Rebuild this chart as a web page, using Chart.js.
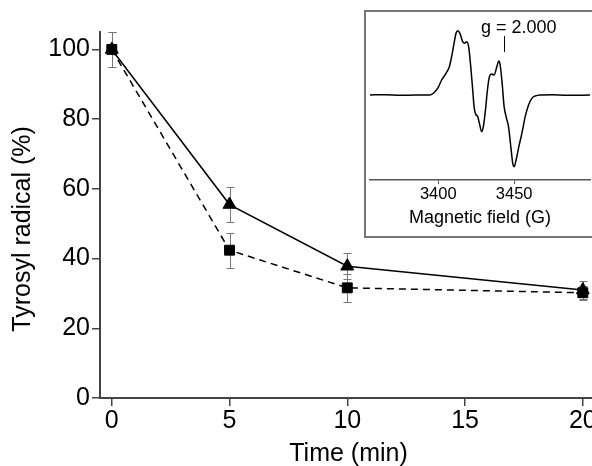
<!DOCTYPE html>
<html>
<head>
<meta charset="utf-8">
<script src="https://cdn.jsdelivr.net/npm/chart.js@4/dist/chart.umd.min.js"></script>
<style>
  html, body { margin: 0; padding: 0; background: #fff; overflow: hidden; width: 592px; height: 466px; }
  #main { position: absolute; left: 0; top: 0; }
  #box { position: absolute; left: 364px; top: 10px; width: 250px; height: 228px; border: 2px solid #777; box-sizing: border-box; background: #fff; }
  #inset { position: absolute; left: 364px; top: 10px; }
</style>
</head>
<body>
<canvas id="main" width="620" height="466"></canvas>
<div id="box"></div>
<canvas id="inset" width="240" height="227"></canvas>
<script>
// main plot data
const times = [0, 5, 10, 20];
const triangleValues = [100, 55.5, 37.8, 31];
const triangleErrors = [5, 5, 3.7, 2.6];
const squareValues = [100, 42.4, 31.6, 30.2];
const squareErrors = [5, 5, 4, 2];
const timeTicks = [0, 5, 10, 15, 20];
const percentTicks = [0, 20, 40, 60, 80, 100];

// inset EPR spectrum (arbitrary units, baseline 0)
const fieldValues = [3355, 3365, 3375, 3385, 3394.5, 3395.6, 3397.8, 3400, 3402.2, 3405.1, 3407.3, 3408.8,
  3410.4, 3411.7, 3412.8, 3414.3, 3416.1, 3417.4, 3418.7, 3420.0, 3421.4, 3422.7, 3423.6, 3424.9,
  3425.8, 3427.1, 3428.6, 3429.7, 3431.1, 3432.4, 3433.7, 3435.2, 3436.8, 3438.6, 3439.9, 3440.8,
  3442.1, 3443.4, 3444.7, 3446.3, 3447.8, 3449.1, 3450.0, 3451.3, 3453.1, 3455.1, 3457.3, 3459.5,
  3461.7, 3463.9, 3467.2, 3475, 3485, 3500];
const signalValues = [0, 1, -1, 0, 0, 2, 10, 23, 45, 65, 85, 115,
  155, 185, 193, 185, 160, 155, 160, 145, 85, 15, -35, -60,
  -63, -85, -110, -95, -45, 15, 55, 63, 60, 85, 102, 90,
  35, -35, -65, -95, -155, -205, -215, -195, -155, -115, -65, -30,
  -10, -3, 0, 1, -1, 0];
const fieldTicks = [3400, 3450];
const gMarkerField = 3443.6;
const gLabel = 'g = 2.000';

const FONT = '"Liberation Sans", Arial, sans-serif';

const errorBars = {
  id: 'errorBars',
  beforeDatasetsDraw(chart) {
    const ctx = chart.ctx;
    const xs = chart.scales.x;
    const ys = chart.scales.y;
    ctx.save();
    ctx.strokeStyle = '#777';
    ctx.lineWidth = 1;
    chart.data.datasets.forEach((ds) => {
      ds.errors.forEach((e, i) => {
        const px = Math.round(xs.getPixelForValue(ds.data[i].x)) + 0.5;
        const top = Math.round(ys.getPixelForValue(ds.data[i].y + e)) + 0.5;
        const bot = Math.round(ys.getPixelForValue(ds.data[i].y - e)) + 0.5;
        ctx.beginPath();
        ctx.moveTo(px, top);
        ctx.lineTo(px, bot);
        ctx.moveTo(px - 4, top);
        ctx.lineTo(px + 4, top);
        ctx.moveTo(px - 4, bot);
        ctx.lineTo(px + 4, bot);
        ctx.stroke();
      });
    });
    ctx.restore();
  }
};

const gMarker = {
  id: 'gMarker',
  afterDraw(chart) {
    const ctx = chart.ctx;
    const gx = Math.round(chart.scales.x.getPixelForValue(gMarkerField)) + 0.5;
    ctx.save();
    ctx.strokeStyle = '#000';
    ctx.lineWidth = 1;
    ctx.beginPath();
    ctx.moveTo(gx, 26);
    ctx.lineTo(gx, 42);
    ctx.stroke();
    ctx.fillStyle = '#000';
    ctx.font = '18px ' + FONT;
    ctx.textAlign = 'left';
    ctx.textBaseline = 'middle';
    ctx.fillText(gLabel, gx - 23.5, 18);
    ctx.restore();
  }
};

new Chart(document.getElementById('main'), {
  type: 'line',
  data: {
    datasets: [
      {
        data: times.map((t, i) => ({x: t, y: triangleValues[i]})),
        errors: triangleErrors,
        borderColor: '#000',
        borderWidth: 1.5,
        pointStyle: 'triangle',
        pointRadius: 7.5,
        pointBackgroundColor: '#000',
        pointBorderColor: '#000',
        pointBorderWidth: 1
      },
      {
        data: times.map((t, i) => ({x: t, y: squareValues[i]})),
        errors: squareErrors,
        borderColor: '#000',
        borderWidth: 1.5,
        borderDash: [7, 5],
        pointStyle: 'rect',
        pointRadius: 7,
        pointBackgroundColor: '#000',
        pointBorderColor: '#000',
        pointBorderWidth: 1
      }
    ]
  },
  options: {
    responsive: false,
    animation: false,
    devicePixelRatio: 1,
    layout: {padding: {top: 32, right: 16, left: 0, bottom: 0}},
    plugins: {legend: {display: false}, tooltip: {enabled: false}},
    scales: {
      x: {
        type: 'linear',
        min: -0.5,
        max: 20.9,
        afterBuildTicks: (s) => { s.ticks = timeTicks.map((v) => ({value: v})); },
        afterFit: (s) => { s.height = 68; },
        grid: {drawOnChartArea: false, tickLength: 8, color: '#444', lineWidth: 1.5},
        border: {color: '#444', width: 2},
        ticks: {color: '#000', font: {size: 25, family: FONT}, padding: 0, maxRotation: 0},
        // trailing space nudges the centred title slightly left, as in the original
        title: {display: true, text: 'Time (min) ', color: '#000', font: {size: 25, family: FONT}, padding: {top: 0, bottom: -3}}
      },
      y: {
        min: 0,
        max: 105,
        afterBuildTicks: (s) => { s.ticks = percentTicks.map((v) => ({value: v})); },
        afterFit: (s) => { s.width = 100; },
        grid: {drawOnChartArea: false, tickLength: 8, color: '#444', lineWidth: 1.5},
        border: {color: '#444', width: 2},
        ticks: {color: '#000', font: {size: 25, family: FONT}, padding: 2},
        title: {display: true, text: 'Tyrosyl radical (%)    ', color: '#000', font: {size: 25, family: FONT}, padding: {top: 8, bottom: 0}}
      }
    }
  },
  plugins: [errorBars]
});

new Chart(document.getElementById('inset'), {
  type: 'line',
  data: {
    datasets: [{
      data: fieldValues.map((f, i) => ({x: f, y: signalValues[i]})),
      borderColor: '#000',
      borderWidth: 1.5,
      pointRadius: 0,
      cubicInterpolationMode: 'monotone'
    }]
  },
  options: {
    responsive: false,
    animation: false,
    devicePixelRatio: 1,
    layout: {padding: {top: 10, right: 14, left: 6, bottom: 0}},
    plugins: {legend: {display: false}, tooltip: {enabled: false}},
    scales: {
      x: {
        type: 'linear',
        min: 3355,
        max: 3500,
        afterBuildTicks: (s) => { s.ticks = fieldTicks.map((v) => ({value: v})); },
        afterFit: (s) => { s.height = 57; },
        grid: {drawOnChartArea: false, tickLength: 4, color: '#555', lineWidth: 1},
        border: {color: '#555', width: 1.5},
        ticks: {color: '#000', font: {size: 16.5, family: FONT}, padding: 1, maxRotation: 0,
          callback: (v) => String(v)},
        title: {display: true, text: 'Magnetic field (G)', color: '#000', font: {size: 18, family: FONT}, padding: {top: 0, bottom: 8}}
      },
      y: {
        display: false,
        min: -255,
        max: 225
      }
    }
  },
  plugins: [gMarker]
});
</script>
</body>
</html>
